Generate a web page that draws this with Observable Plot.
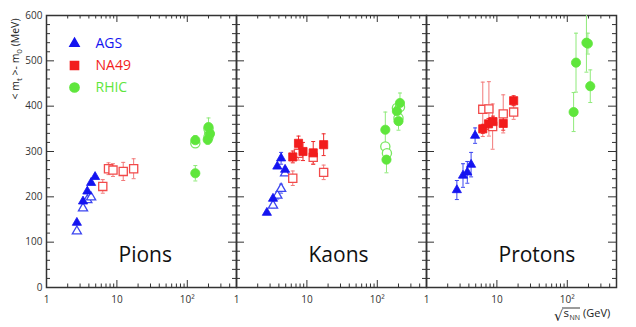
<!DOCTYPE html>
<html><head><meta charset="utf-8">
<script src="https://cdn.jsdelivr.net/npm/d3@7"></script>
<script src="https://cdn.jsdelivr.net/npm/@observablehq/plot@0.6"></script>
<style>body{margin:0;background:#fff} #chart svg{display:block}</style>
</head><body><div id="chart"></div>
<script>
// ---------- data ----------
const panels = ["Pions", "Kaons", "Protons"];
const seriesNames = ["AGS", "NA49", "RHIC"];
const xMajorTicks = [1, 10, 100];
const xTickLabels = ["1", "10", "10²"];
const xMinorTicks = [2,3,4,5,6,7,8,9,20,30,40,50,60,70,80,90,200,300,400];
const yMajorTicks = [0,100,200,300,400,500,600];
const yMinorTicks = [20,40,60,80,120,140,160,180,220,240,260,280,320,340,360,380,420,440,460,480,520,540,560,580];

// [sqrt(s_NN) GeV, <m_t>-m_0 MeV, error MeV]
const pionsAGS      = [[2.7,143,0],[3.3,190,0],[3.8,212,0],[4.3,231,0],[4.9,244,0]];
const pionsAGSOpen  = [[2.7,124,0],[3.3,175,0],[3.8,193,0],[4.3,199,0]];
const pionsNA49     = [];
const pionsNA49Open = [[6.3,223,15],[7.6,262,13],[8.8,259,14],[12.3,256,20],[17.3,262,22]];
const pionsRHIC     = [[130,252,17],[130,325,10],[195,326,10],[200,354,20],[210,339,10]];
const pionsRHICOpen = [[130,318,0],[200,332,0],[205,340,0],[200,350,0]];

const kaonsAGS      = [[2.7,165,0],[3.3,196,0],[3.8,267,0],[4.3,285,13],[4.9,260,0]];
const kaonsAGSOpen  = [[3.3,181,5],[3.8,203,8],[4.3,218,10],[4.9,252,0]];
const kaonsNA49     = [[6.3,288,13],[7.6,318,16],[8.8,300,20],[12.3,297,25],[17.3,315,24]];
const kaonsNA49Open = [[6.3,241,16],[7.6,296,15],[12.3,287,15],[17.3,254,16]];
const kaonsRHIC     = [[130,348,39],[135,282,29],[190,389,0],[200,367,20],[210,407,22]];
const kaonsRHICOpen = [[130,311,0],[137,296,0],[190,396,0],[210,398,0],[200,374,0]];

const protonsAGS      = [[2.7,215,21],[3.3,247,26],[3.8,254,24],[4.3,271,27],[4.9,335,17]];
const protonsAGSOpen  = [];
const protonsNA49     = [[6.3,350,10],[7.6,361,12],[8.8,366,12],[12.3,362,15],[17.3,412,11]];
const protonsNA49Open = [[6.3,393,60],[7.7,394,60],[8.7,355,50],[12.3,383,42],[17.3,387,16]];
const protonsRHIC     = [[123,387,43],[133,496,65],[187,540,65],[196,538,23],[212,444,36]];
const protonsRHICOpen = [];

// ---------- build table ----------
const rows = [];
function add(panel, name, open, arr) { arr.forEach(([x, y, e]) => rows.push({panel, name, open, x, y, e})); }
add("Pions","AGS",true,pionsAGSOpen);   add("Pions","AGS",false,pionsAGS);
add("Pions","NA49",true,pionsNA49Open); add("Pions","NA49",false,pionsNA49);
add("Pions","RHIC",true,pionsRHICOpen); add("Pions","RHIC",false,pionsRHIC);
add("Kaons","AGS",true,kaonsAGSOpen);   add("Kaons","AGS",false,kaonsAGS);
add("Kaons","NA49",true,kaonsNA49Open); add("Kaons","NA49",false,kaonsNA49);
add("Kaons","RHIC",true,kaonsRHICOpen); add("Kaons","RHIC",false,kaonsRHIC);
add("Protons","AGS",true,protonsAGSOpen);   add("Protons","AGS",false,protonsAGS);
add("Protons","NA49",true,protonsNA49Open); add("Protons","NA49",false,protonsNA49);
add("Protons","RHIC",true,protonsRHICOpen); add("Protons","RHIC",false,protonsRHIC);

// ---------- styles ----------
const sty = {
  AGS:  {symbol:"triangle", r:3.4, fill:"#1414f0", open:"#3c46f0", bar:"#3c46f0", openBar:"#5560f0"},
  NA49: {symbol:"square",   r:4.6, fill:"#f21c1c", open:"#f24a4a", bar:"#ee2a2a", openBar:"#f27a7a"},
  RHIC: {symbol:"circle",   r:4.6, fill:"#5fe63c", open:"#79e860", bar:"#8fea7a", openBar:"#a5ee95"}
};
const W = 636, H = 327, mL = 46, mR = 20, mT = 15, mB = 40;
const fw = (W - mL - mR) / 3, fh = H - mT - mB;
const capSymbol = {draw(ctx, size) { const w = Math.sqrt(size / Math.PI); ctx.moveTo(-w, 0); ctx.lineTo(w, 0); }};
const errRows = rows.filter(d => d.e > 0);
const barColor = d => d.open ? sty[d.name].openBar : sty[d.name].bar;
const tick = {stroke: "#333", strokeWidth: 1};

const marks = [
  Plot.tickX(xMajorTicks, {x: d => d, insetTop: fh - 7, ...tick}),
  Plot.tickX(xMajorTicks, {x: d => d, insetBottom: fh - 7, ...tick}),
  Plot.tickX(xMinorTicks, {x: d => d, insetTop: fh - 3.5, ...tick}),
  Plot.tickX(xMinorTicks, {x: d => d, insetBottom: fh - 3.5, ...tick}),
  Plot.tickY(yMajorTicks, {y: d => d, insetRight: fw - 8, ...tick}),
  Plot.tickY(yMajorTicks, {y: d => d, insetLeft: fw - 8, ...tick}),
  Plot.tickY(yMinorTicks, {y: d => d, insetRight: fw - 4, ...tick}),
  Plot.tickY(yMinorTicks, {y: d => d, insetLeft: fw - 4, ...tick}),
  Plot.frame({stroke: "#333", strokeWidth: 1.5}),
  Plot.ruleX(errRows, {fx: "panel", x: "x", y1: d => d.y - d.e, y2: d => d.y + d.e, stroke: barColor, strokeWidth: 1, clip: true}),
  Plot.dot(errRows, {fx: "panel", x: "x", y: d => d.y + d.e, symbol: capSymbol, r: 2, stroke: barColor, fill: "none", strokeWidth: 1, clip: true}),
  Plot.dot(errRows, {fx: "panel", x: "x", y: d => d.y - d.e, symbol: capSymbol, r: 2, stroke: barColor, fill: "none", strokeWidth: 1, clip: true})
];
for (const open of [true, false]) {
  for (const name of seriesNames) {
    const s = sty[name];
    marks.push(Plot.dot(rows.filter(d => d.name === name && d.open === open), {
      fx: "panel", x: "x", y: "y", symbol: s.symbol, r: s.r,
      fill: open ? "white" : s.fill, stroke: open ? s.open : s.fill, strokeWidth: open ? 1.3 : 0.8
    }));
  }
}
// legend (in the first panel)
seriesNames.forEach((name, i) => {
  const s = sty[name];
  const row = [{panel: panels[0], name}];
  marks.push(Plot.dot(row, {fx: "panel", frameAnchor: "top-left", dx: 28, dy: 28 + 22 * i, symbol: s.symbol, r: s.r, fill: s.fill, stroke: s.fill}));
  marks.push(Plot.text(row, {fx: "panel", frameAnchor: "top-left", dx: 49, dy: 28 + 22 * i, text: "name", fill: s.fill, fontSize: 14, textAnchor: "start", lineAnchor: "middle"}));
});
// panel names
marks.push(Plot.text(panels, {fx: d => d, text: d => d, frameAnchor: "bottom-left", dx: 72, dy: -26, textAnchor: "start", lineAnchor: "bottom", fontSize: 21, fill: "#111"}));

const svg = Plot.plot({
  width: W, height: H,
  marginLeft: mL, marginRight: mR, marginTop: mT, marginBottom: mB,
  style: {fontFamily: "Open Sans", fontSize: "10px", color: "#333", background: "white"},
  fx: {domain: panels, padding: 0, axis: null, label: null},
  x: {type: "log", domain: [1, 500], ticks: xMajorTicks, tickFormat: d => xTickLabels[xMajorTicks.indexOf(d)], tickSize: 0, tickPadding: 8, label: null},
  y: {domain: [0, 600], ticks: yMajorTicks, tickSize: 0, tickPadding: 4, label: null},
  marks
});
document.getElementById("chart").appendChild(svg);

// axis titles with sub/superscripts
const g = d3.select(svg).append("g").attr("font-family", "Open Sans").attr("fill", "#222").attr("text-anchor", "start");
const yl = g.append("text").attr("transform", "translate(19,59) rotate(-90)").attr("text-anchor", "middle").attr("font-size", 10.5);
yl.append("tspan").text("< m");
yl.append("tspan").attr("dy", 3).attr("font-size", 8).text("t");
yl.append("tspan").attr("dy", -3).text(" >- m");
yl.append("tspan").attr("dy", 3).attr("font-size", 8).text("0");
yl.append("tspan").attr("dy", -3).text(" (MeV)");

g.append("text").attr("x", 554).attr("y", 321).attr("font-size", 14).attr("font-family", "DejaVu Sans").text("√");
g.append("text").attr("x", 563.5).attr("y", 317).attr("font-size", 11.5).text("s");
g.append("text").attr("x", 569.5).attr("y", 320).attr("font-size", 7).text("NN");
g.append("line").attr("x1", 562).attr("x2", 580).attr("y1", 308).attr("y2", 308).attr("stroke", "#222").attr("stroke-width", 0.9);
g.append("text").attr("x", 583).attr("y", 317).attr("font-size", 11).text("(GeV)");
</script>
</body></html>
